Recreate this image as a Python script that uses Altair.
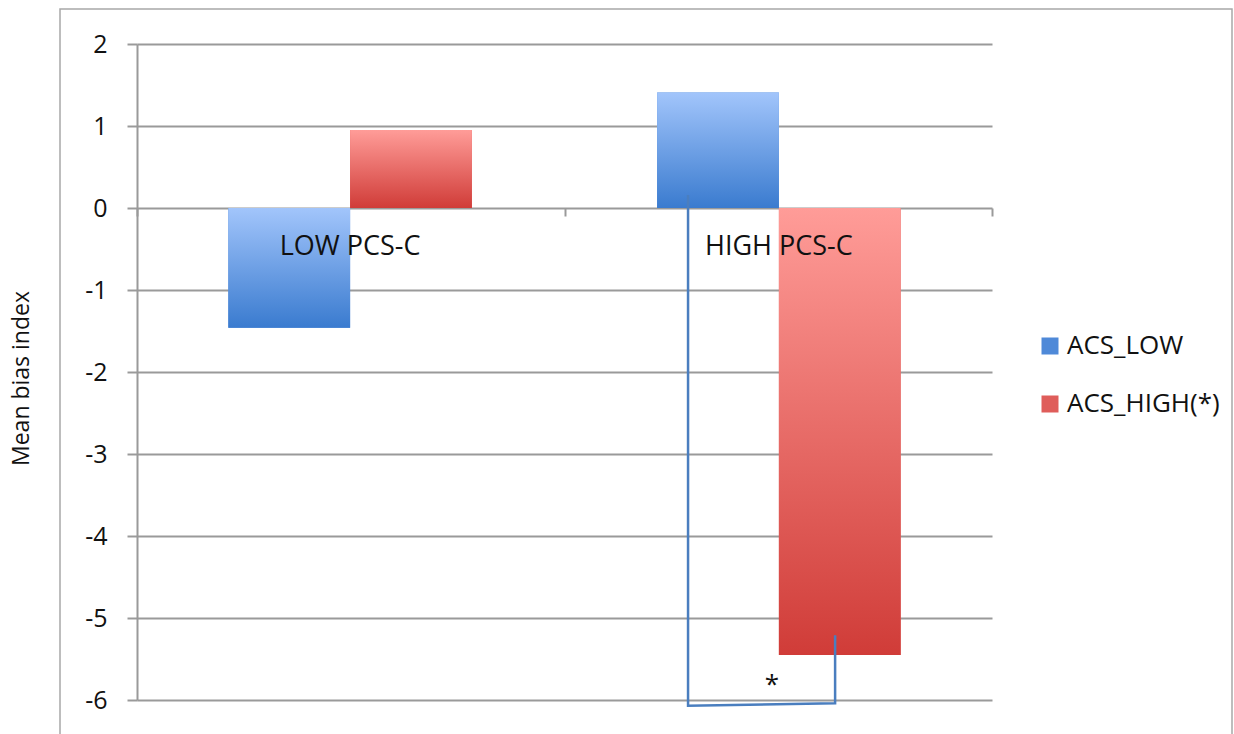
import altair as alt
import pandas as pd

# ---- data ----
categories = ["LOW PCS-C", "HIGH PCS-C"]
series = ["ACS_LOW", "ACS_HIGH(*)"]
acs_low = [-1.46, 1.41]
acs_high = [0.95, -5.45]

# significance bracket (x on a 0..2 category axis, y in bias-index units)
bracket_x = [1.289, 1.289, 1.633, 1.633]
bracket_y = [0.16, -6.07, -6.04, -5.21]
star_text = ["*"]
star_x = [1.485]
star_y = [-5.82]
category_ticks = [0, 1, 2]
y_ticks = list(range(-6, 3))

rows = []
for i, c in enumerate(categories):
    rows.append({"cat": c, "series": series[0], "value": acs_low[i]})
    rows.append({"cat": c, "series": series[1], "value": acs_high[i]})
df = pd.DataFrame(rows)

bracket_df = pd.DataFrame({"bx": bracket_x, "value": bracket_y, "order": list(range(len(bracket_x)))})
star_df = pd.DataFrame({"bx": star_x, "value": star_y, "txt": star_text})

FONT = "Open Sans"
GRID = "#9a9a9a"
TEXT = "#111111"

x_enc = alt.X(
    "cat:N",
    sort=categories,
    scale=alt.Scale(paddingInner=0.432, paddingOuter=0.213),
    axis=alt.Axis(
        orient="bottom", offset=-492, title=None, domain=False, grid=False,
        ticks=False, zindex=2,
        labelFont=FONT, labelFontSize=27, labelColor=TEXT, labelPadding=25, labelAngle=0,
    ),
)
xoff_enc = alt.XOffset("series:N", sort=series, scale=alt.Scale(domain=series, paddingInner=0, paddingOuter=0))
y_enc = alt.Y(
    "value:Q",
    scale=alt.Scale(domain=[-6, 2], nice=False, zero=False),
    axis=alt.Axis(
        values=y_ticks, title="Mean bias index",
        labelExpr="'' + datum.value",
        grid=True, gridColor=GRID, gridWidth=2,
        domainColor=GRID, domainWidth=2,
        tickColor=GRID, tickSize=10, tickWidth=2,
        labelFont=FONT, labelFontSize=25, labelPadding=20, labelColor=TEXT,
        titleFont=FONT, titleFontSize=23, titleFontWeight="normal", titleColor=TEXT,
        titleAngle=-90, titleX=-116, titleY=334, titleAlign="center", titleBaseline="middle",
    ),
)
xq_enc = alt.X(
    "bx:Q",
    scale=alt.Scale(domain=[0, 2], nice=False, zero=False),
    axis=alt.Axis(
        orient="bottom", offset=-492, values=category_ticks, labels=False, title=None,
        domain=False, grid=False, ticks=True, tickSize=8, tickColor=GRID, tickWidth=2,
    ),
)

blue_grad = alt.Gradient(
    gradient="linear",
    stops=[alt.GradientStop(color="#a2c5fb", offset=0), alt.GradientStop(color="#3a7bcf", offset=1)],
    x1=0, x2=0, y1=0, y2=1,
)
red_grad = alt.Gradient(
    gradient="linear",
    stops=[alt.GradientStop(color="#ff9c98", offset=0), alt.GradientStop(color="#d03c38", offset=1)],
    x1=0, x2=0, y1=0, y2=1,
)

base = alt.Chart(df).mark_bar().encode(
    x=x_enc,
    xOffset=xoff_enc,
    y=y_enc,
    color=alt.Color(
        "series:N",
        sort=series,
        scale=alt.Scale(domain=series, range=["#4f89d8", "#df5d5a"]),
        legend=alt.Legend(
            orient="none", legendX=900, legendY=289, title=None,
            symbolType="square", symbolSize=289, symbolStrokeWidth=0,
            labelFont=FONT, labelFontSize=26, labelColor=TEXT, labelOffset=4,
            rowPadding=32,
        ),
    ),
)

blue_bars = alt.Chart(df).transform_filter(alt.datum.series == series[0]).mark_bar(color=blue_grad).encode(
    x=x_enc, xOffset=xoff_enc, y=y_enc
)
red_bars = alt.Chart(df).transform_filter(alt.datum.series == series[1]).mark_bar(color=red_grad).encode(
    x=x_enc, xOffset=xoff_enc, y=y_enc
)
bars = alt.layer(base, blue_bars, red_bars)

bracket = alt.Chart(bracket_df).mark_line(color="#4a7ebf", strokeWidth=2.5, clip=False).encode(
    x=xq_enc,
    y=y_enc,
    order="order:O",
)
star = alt.Chart(star_df).mark_text(font=FONT, fontSize=26, fontWeight="normal", color=TEXT, baseline="middle").encode(
    x=xq_enc,
    y=y_enc,
    text="txt:N",
)
annot = alt.layer(bracket, star)

frame = alt.Chart(pd.DataFrame({"k": [0]})).mark_rect(
    filled=False, stroke="#a8a8a8", strokeWidth=1.5, clip=False
).encode(x=alt.value(-77), x2=alt.value(1095), y=alt.value(-35), y2=alt.value(720))

chart = alt.layer(bars, annot, frame).resolve_scale(
    x="independent"
).properties(
    width=855,
    height=656,
    autosize=alt.AutoSizeParams(type="none"),
    padding={"left": 137, "top": 44, "right": 242, "bottom": 34},
    background="white",
).configure_view(stroke=None)

chart.save("out.html", embed_options={"renderer": "svg", "actions": False})
